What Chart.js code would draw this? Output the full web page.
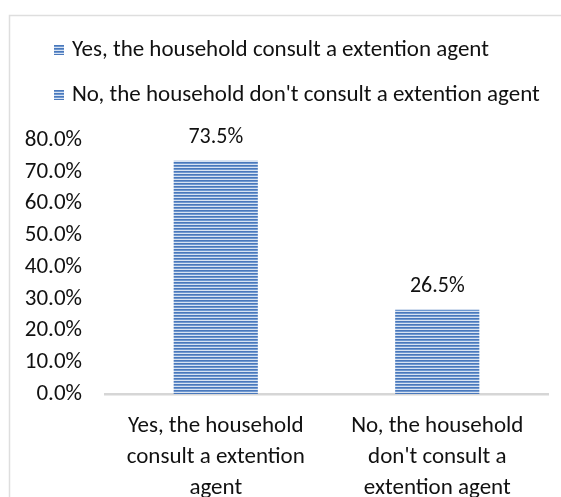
<!DOCTYPE html>
<html>
<head>
<meta charset="utf-8">
<script src="https://cdn.jsdelivr.net/npm/chart.js@4"></script>
<style>
  html, body { margin: 0; padding: 0; background: #fff; }
  #wrap { position: relative; width: 561px; height: 497px; }
  canvas { display: block; }
</style>
</head>
<body>
<div id="wrap"><canvas id="c" width="561" height="497"></canvas></div>
<script>
// Categories (multi-line axis labels) and legend entries
const categories = [
  ["Yes, the household", "consult a extention", "agent"],
  ["No, the household", "don't consult a", "extention agent"]
];
const legendLabels = [
  "Yes, the household consult a extention agent",
  "No, the household don't consult a extention agent"
];
// Share of households, percent
const shareValues = [73.5, 26.5];
// Y axis ticks, percent
const yTicks = [0, 10, 20, 30, 40, 50, 60, 70, 80];

const FONT = "Carlito, Lato, 'Open Sans', sans-serif";

// Horizontal striped fill
function stripes(ctx) {
  const p = document.createElement('canvas');
  p.width = 4; p.height = 3;
  const g = p.getContext('2d');
  g.fillStyle = '#4a78bb'; g.fillRect(0, 0, 4, 1);
  g.fillStyle = '#6f98d0'; g.fillRect(0, 1, 4, 1);
  g.fillStyle = '#d8e3f2'; g.fillRect(0, 2, 4, 1);
  return ctx.createPattern(p, 'repeat');
}

const canvas = document.getElementById('c');
const ctx = canvas.getContext('2d');
const fill = stripes(ctx);

// Frame, legend and value labels
const decorations = {
  id: 'decorations',
  beforeDraw(chart) {
    const c = chart.ctx;
    c.save();
    c.strokeStyle = '#dedede';
    c.lineWidth = 1.5;
    c.beginPath();
    c.moveTo(9.5, 497);
    c.lineTo(9.5, 15.5);
    c.lineTo(561, 15.5);
    c.stroke();
    c.restore();
  },
  afterDatasetsDraw(chart) {
    const c = chart.ctx;
    c.save();
    // legend
    const rows = [50, 95];
    legendLabels.forEach((t, i) => {
      c.fillStyle = fill;
      c.fillRect(54, rows[i] - 5, 10, 10);
      c.fillStyle = '#111';
      c.font = '23px ' + FONT;
      c.textBaseline = 'middle';
      c.textAlign = 'left';
      c.fillText(t, 72, rows[i]);
    });
    // value labels
    const meta = chart.getDatasetMeta(0);
    c.font = '22px ' + FONT;
    c.textAlign = 'center';
    c.textBaseline = 'middle';
    c.fillStyle = '#111';
    meta.data.forEach((bar, i) => {
      c.fillText(shareValues[i].toFixed(1) + '%', bar.x, bar.y - 23);
    });
    c.restore();
  }
};

new Chart(ctx, {
  type: 'bar',
  data: {
    labels: categories,
    datasets: [{
      data: shareValues,
      backgroundColor: fill,
      borderWidth: 0,
      barPercentage: 0.38,
      categoryPercentage: 1
    }]
  },
  options: {
    responsive: false,
    animation: false,
    devicePixelRatio: 1,
    layout: { padding: { top: 140, right: 13, left: 0, bottom: 0 } },
    plugins: { legend: { display: false }, tooltip: { enabled: false } },
    scales: {
      x: {
        grid: { display: false, drawTicks: false },
        border: { display: true, color: '#d6d6d6', width: 2.5 },
        ticks: {
          color: '#111',
          font: { size: 23, family: FONT, lineHeight: 1.35 },
          padding: 17,
          maxRotation: 0,
          autoSkip: false
        },
        afterFit(s) { s.height = 103; }
      },
      y: {
        min: 0,
        max: 80,
        afterBuildTicks(s) { s.ticks = yTicks.map(v => ({ value: v })); },
        grid: { display: false, drawTicks: false },
        border: { display: false },
        ticks: {
          color: '#111',
          font: { size: 23, family: FONT },
          padding: 23,
          callback: v => v.toFixed(1) + '%'
        },
        afterFit(s) { s.width = 105; }
      }
    }
  },
  plugins: [decorations]
});
</script>
</body>
</html>
